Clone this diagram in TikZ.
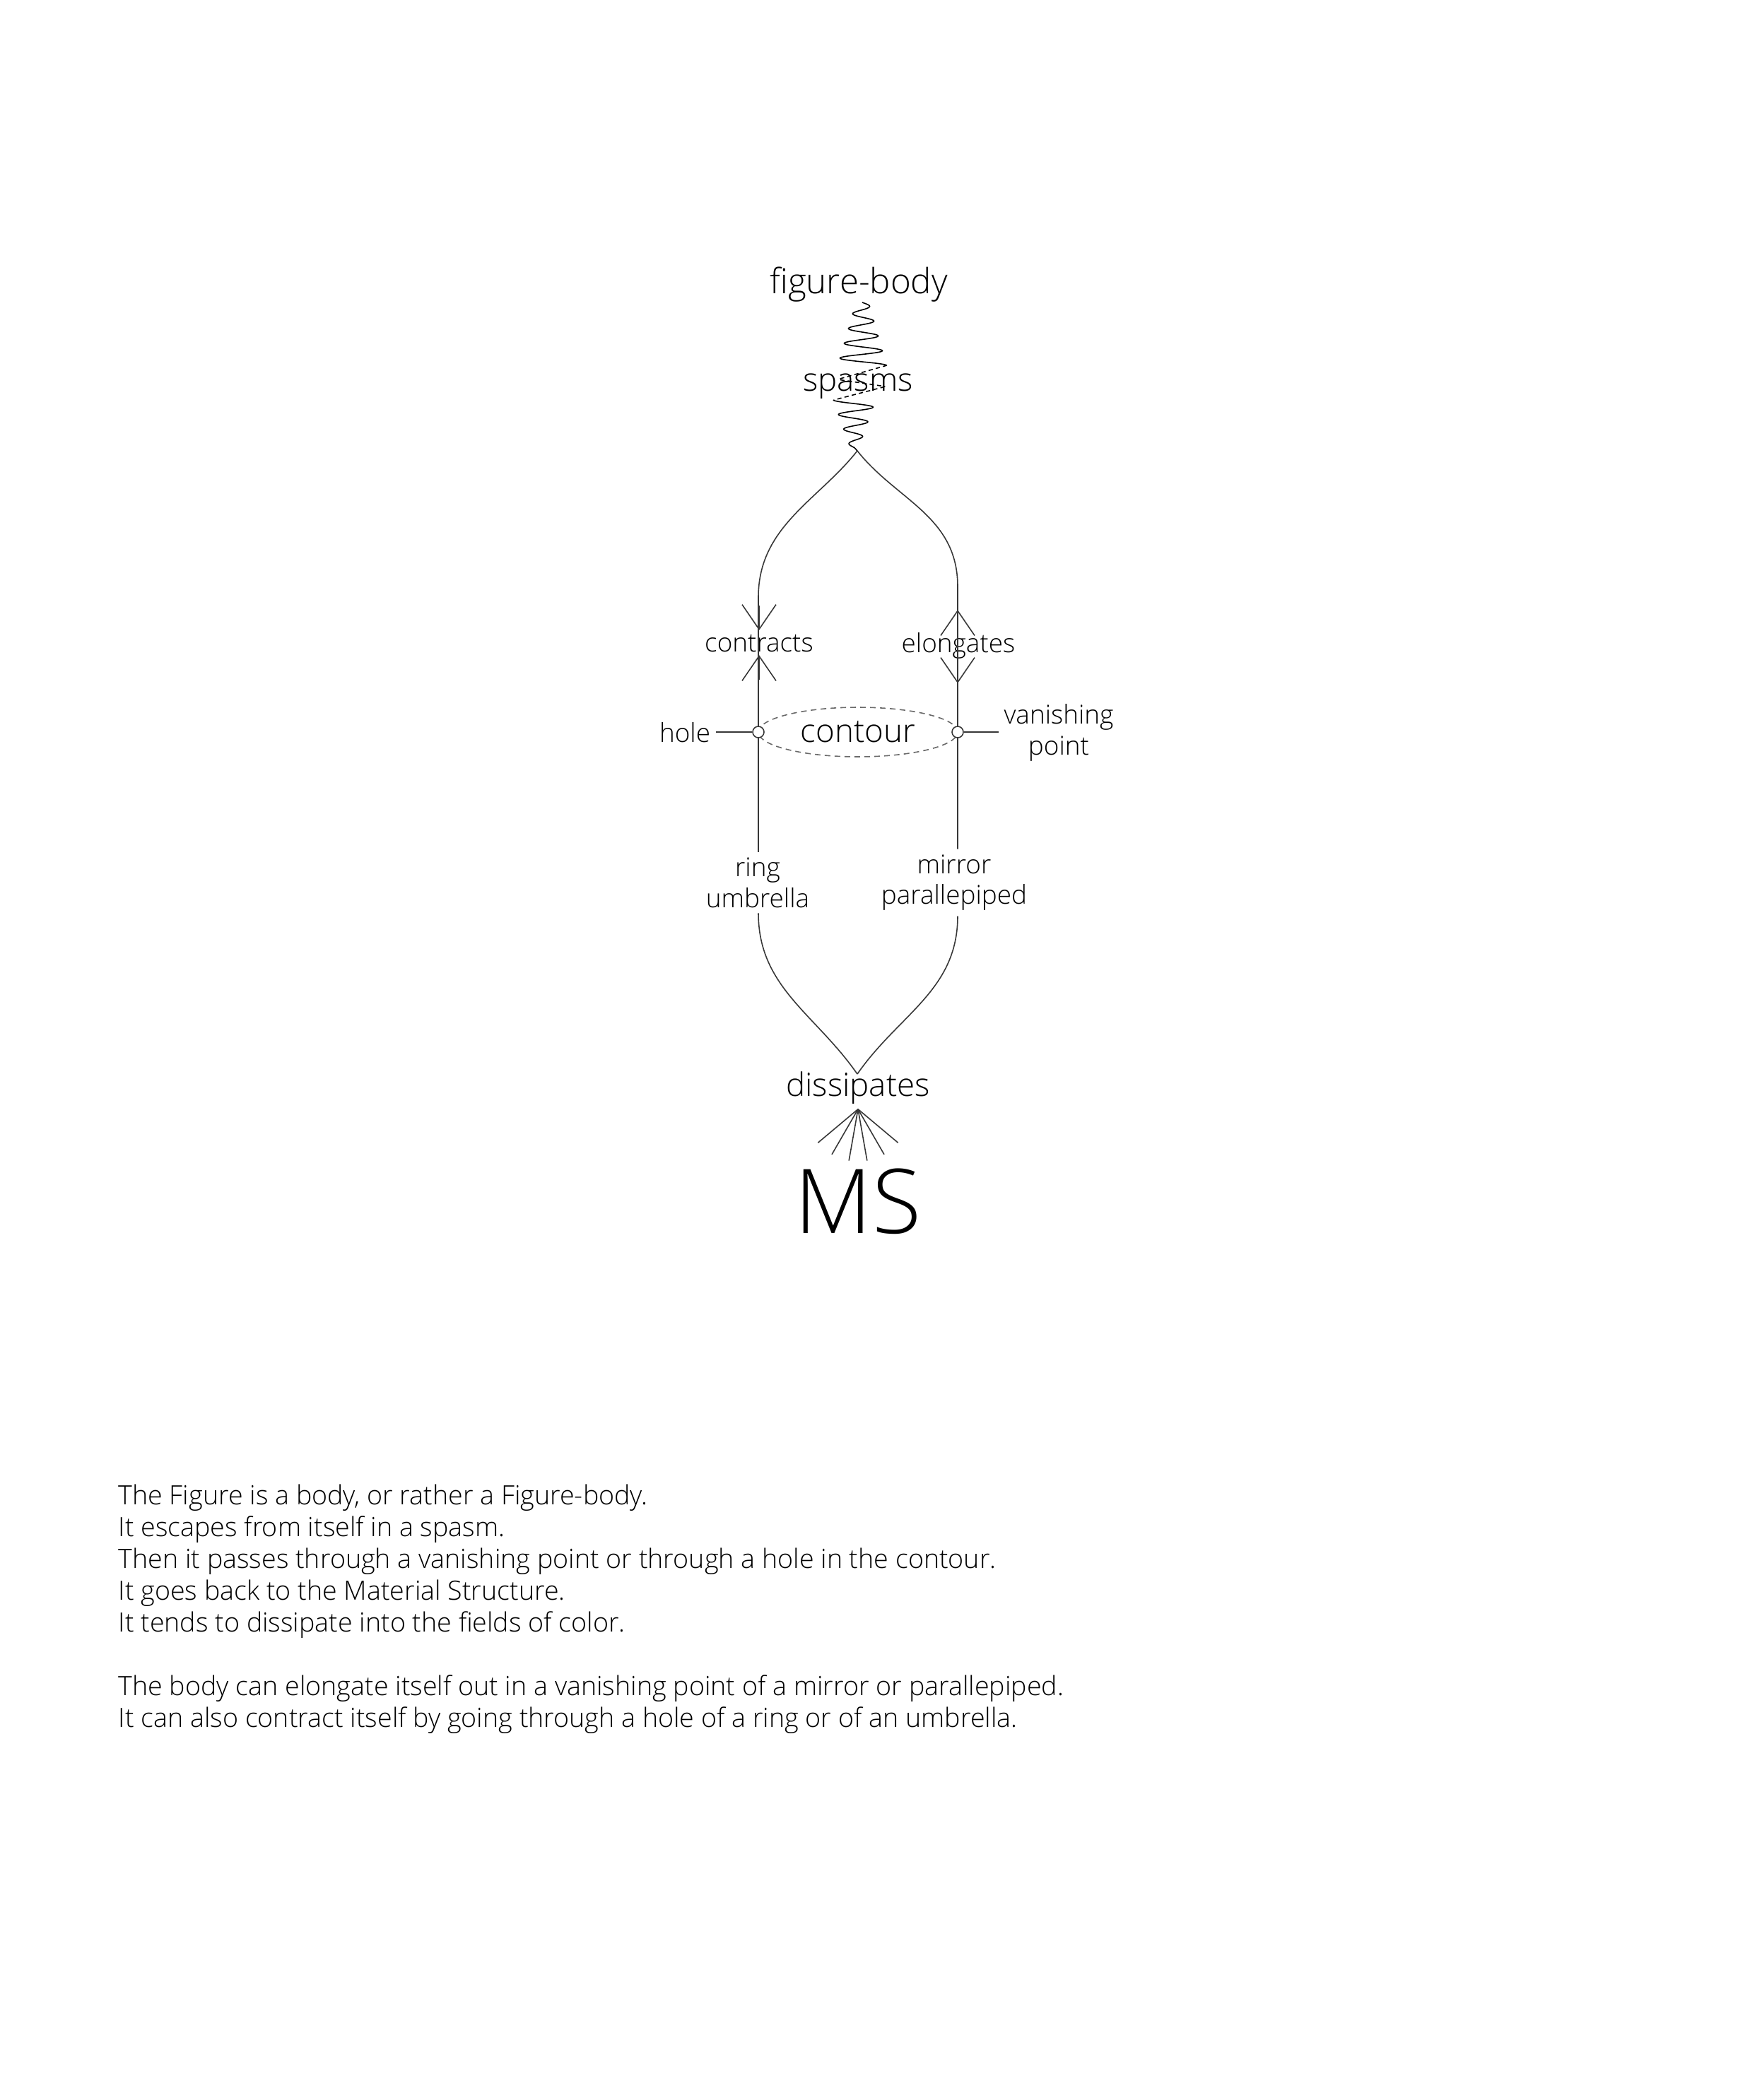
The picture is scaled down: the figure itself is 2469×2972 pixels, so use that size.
\documentclass[tikz,border=0pt]{standalone}
\usepackage{fontspec}
\IfFontExistsTF{Open Sans Light}{\setmainfont{Open Sans Light}}{\setmainfont{Open Sans}}
\usetikzlibrary{arrows.meta,shapes.geometric}
\definecolor{lnkgray}{RGB}{55,55,55}
\definecolor{ellgray}{RGB}{105,105,105}
\tikzset{
  bigl/.style={font=\fontsize{13}{15}\selectfont, inner sep=2pt},
  lbl/.style={font=\fontsize{10.5}{12.5}\selectfont, align=center, inner sep=2pt},
  lnk/.style={draw=lnkgray, line width=0.45pt},
  wav/.style={black, line width=0.45pt},
  barb/.style={lnk, -{Straight Barb[length=3.5mm, width=4.8mm]}},
  hol/.style={circle, draw=lnkgray, fill=white, line width=0.45pt, minimum size=1.6mm, inner sep=0pt},
  ell/.style={ellipse, draw=ellgray, line width=0.45pt, dash pattern=on 0.8mm off 0.6mm,
              minimum width=28.2mm, minimum height=7mm, inner sep=0pt,
              font=\fontsize{13}{15}\selectfont},
}
\begin{document}
\begin{tikzpicture}[x=0.1mm, y=-0.1mm]
  \useasboundingbox (0,0) rectangle (2469,2972);
  % labels
  \node[bigl, anchor=base, font=\fontsize{14}{16}\selectfont] (fbody) at (1215,415) {figure-body};
  \node[bigl, anchor=base] (spasms) at (1214,553) {spasms};
  \node[lbl, anchor=base] (contracts) at (1074,922) {contracts};
  \node[lbl, anchor=base] (elongates) at (1356,923) {elongates};
  \node[lbl] (ring) at (1072,1249) {ring\\umbrella};
  \node[lbl] (mirror) at (1350,1249) {mirror\\parallepiped};
  \node[lbl, anchor=base] (hole) at (969,1050) {hole};
  \node[lbl] (vanish) at (1498,1037) {vanishing\\point};
  \node[bigl, anchor=base] (dissip) at (1214,1551) {dissipates};
  \node[font=\fontsize{36}{40}\selectfont, anchor=base, inner sep=0pt] (ms) at (1214,1745) {MS};
  \coordinate (split) at (1213,638);
  \coordinate (merge) at (1213,1520);
  \coordinate (lbend) at (1073,845);
  \coordinate (rbend) at (1355,830);
  % spasm wave
  \draw[wav] plot[domain=0:8.5, samples=171, variable=\t]
    ({1220+(9+3*\t)*sin(180*\t)}, {428+10.5*\t});
  \draw[wav, dash pattern=on 0.6mm off 0.45mm, rounded corners=0.3mm]
    (1255,517) -- (1185,537) -- (1253,547) -- (1180,566);
  \draw[wav] plot[domain=0:6.5, samples=131, variable=\t]
    ({1209-(30-3.7*\t)*cos(180*\t)}, {566+10.4*\t}) -- (split);
  % branches
  \draw[lnk] (split) .. controls +(-55,70) and +(0,-100) .. (lbend) -- (lbend |- ring.north);
  \draw[lnk] (split) .. controls +(55,70) and +(0,-100) .. (rbend) -- (rbend |- mirror.north);
  \draw[lnk] (lbend |- ring.south) .. controls +(0,105) and +(-59,-85) .. (merge);
  \draw[lnk] (rbend |- mirror.south) .. controls +(0,105) and +(59,-85) .. (merge);
  % contracts / elongates
  \draw[barb] (1074,857) -- (1074,892);
  \draw[barb] (1074,962) -- (1074,927);
  \draw[barb] (1355,898) -- (1355,863);
  \draw[barb] (1355,933) -- (1355,967);
  % contour
  \node[ell] (contour) at (1214,1036) {contour};
  \node[hol] (lhole) at (1073,1036) {};
  \node[hol] (rhole) at (1355,1036) {};
  \draw[lnk] (hole.east |- lhole) -- (lhole);
  \draw[lnk] (rhole) -- (vanish.west |- rhole);
  % fan into dissipates
  \foreach \a in {-50,-30,-10,10,30,50}
    \draw[lnk] (dissip.south) -- +({90+\a}:74);
  % text
  \node[anchor=north west, align=left, inner sep=0pt,
        font=\fontsize{10.7}{12.8}\selectfont] (story) at (167,2100)
    {The Figure is a body, or rather a Figure-body.\\
     It escapes from itself in a spasm.\\
     Then it passes through a vanishing point or through a hole in the contour.\\
     It goes back to the Material Structure.\\
     It tends to dissipate into the fields of color.\\[12.8pt]
     The body can elongate itself out in a vanishing point of a mirror or parallepiped.\\
     It can also contract itself by going through a hole of a ring or of an umbrella.};
\end{tikzpicture}
\end{document}
